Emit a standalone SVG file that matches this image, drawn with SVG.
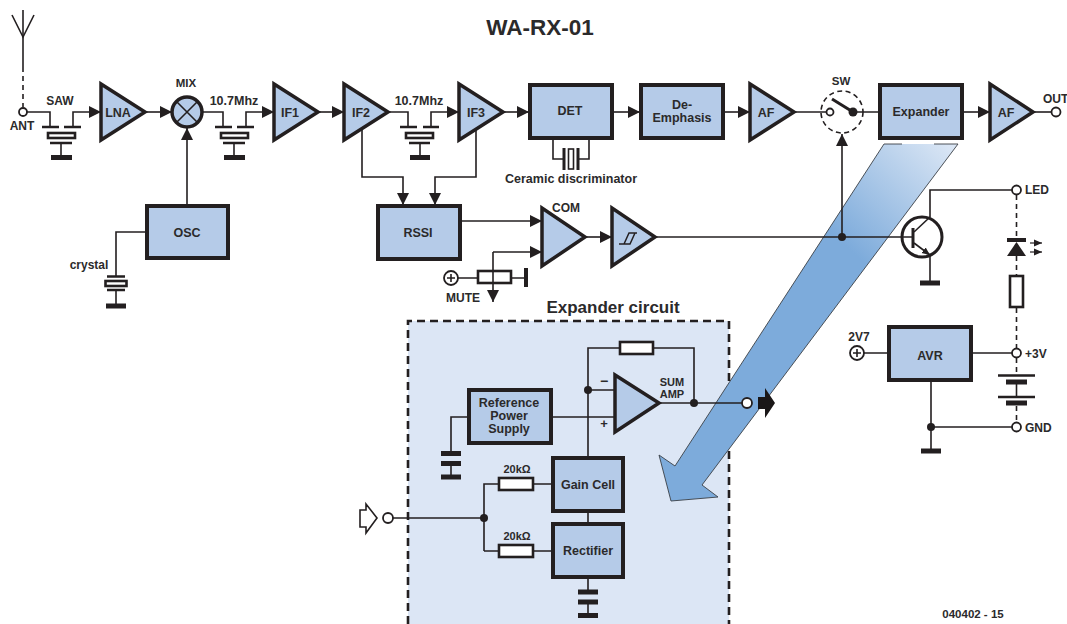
<svg xmlns="http://www.w3.org/2000/svg" width="1067" height="624" viewBox="0 0 1067 624">
<style>
text{font-family:"Liberation Sans",Arial,sans-serif;font-weight:bold;fill:#2b2a2b;text-anchor:middle}
.s{font-size:12px}.m{font-size:12.5px}.t{font-size:11px}
.l{text-anchor:start}.e{text-anchor:end}
.box{fill:#b5cbe8;stroke:#231f20;stroke-width:4}
.tri{fill:#b5cbe8;stroke:#231f20;stroke-width:3.5;stroke-linejoin:miter}
.w{fill:none;stroke:#231f20;stroke-width:1.6}
.a{marker-end:url(#ah)}
.d{fill:none;stroke:#231f20;stroke-width:1.6;stroke-dasharray:5 4}
.o{fill:#fff;stroke:#231f20;stroke-width:1.8}
.dot{fill:#231f20}
.bar{fill:none;stroke:#231f20;stroke-width:2.5}
.g{fill:none;stroke:#231f20;stroke-width:5}
.r{fill:#fff;stroke:#231f20;stroke-width:2.6}
</style>
<defs>
<marker id="ah" markerUnits="userSpaceOnUse" markerWidth="13" markerHeight="13" refX="12" refY="6.500" orient="auto"><path d="M0 0.500L12 6.500L0 12.500Z" fill="#231f20"/></marker>
<marker id="as" markerUnits="userSpaceOnUse" markerWidth="9" markerHeight="9" refX="8" refY="4.500" orient="auto"><path d="M0 1L8 4.500L0 8Z" fill="#231f20"/></marker>
<linearGradient id="bg" gradientUnits="userSpaceOnUse" x1="950" y1="135" x2="845" y2="245"><stop offset="0" stop-color="#dfe9f6"/><stop offset="1" stop-color="#7dabdb"/></linearGradient>
</defs>
<text x="540" y="35" font-size="22.5">WA-RX-01</text>
<g id="expander-circuit">
<path d="M408 321H729V624H408Z" fill="#dce6f5"/>
<path d="M408 624V321H729V624" fill="none" stroke="#231f20" stroke-width="2.6" stroke-dasharray="8 5"/>
<text x="613" y="313" font-size="17">Expander circuit</text>
</g>
<g id="big-arrow">
<path d="M884 144H958L702 485L718 497L671 501L659 455L675 466Z" fill="url(#bg)"/>
<path d="M902 144H884L675 466L659 455L671 501L718 497L702 485L958 144H934" fill="none" stroke="#3a3f46" stroke-width="0.9"/>
</g>
<g id="connectors">
<path class="w" d="M23 10V67"/><path class="d" d="M23 67V107"/><path class="w" d="M12 15L23 37L34 15"/>
<path class="w" d="M27 112H50V126"/><path class="w a" d="M73 126V112H101"/>
<path class="w a" d="M145 112H172"/>
<path class="w" d="M202 112H223V126"/><path class="w a" d="M246 126V112H274"/>
<path class="w a" d="M318 112H344"/>
<path class="w" d="M388 112H408V126"/><path class="w a" d="M431 126V112H459"/>
<path class="w a" d="M503 112H529"/>
<path class="w a" d="M612 112H640"/>
<path class="w a" d="M723 112H750"/>
<path class="w" d="M794 112H826M857 112H879"/>
<path class="w a" d="M963 112H990"/>
<path class="w" d="M1033 112H1051"/>
<path class="w a" d="M187 205V128"/>
<path class="w" d="M146 232H116V276"/>
<path class="w" d="M553 138V159H564M578 159H589V138"/>
<path class="w a" d="M362 130V177H403V205"/>
<path class="w a" d="M476 130V177H435V205"/>
<path class="w a" d="M460 221H542"/>
<path class="w a" d="M493 252H542"/>
<path class="w a" d="M493 252V302"/>
<path class="w" d="M458 278H477M511 278H525"/>
<path class="w a" d="M585 237H612"/>
<path class="w" d="M655 237H913"/>
<path class="w a" d="M842 237V134"/>
<circle class="dot" cx="842" cy="237" r="4"/>
<path class="w" d="M930 217V190H1012"/>
<path class="w" d="M930 255V281"/>
<path class="d" d="M1016.500 195V238M1016.500 256V275M1016.500 308V348M1016.500 358V375M1016.500 406V423"/>
<path class="w" d="M1016.500 381V397"/>
<path class="w" d="M864 353H888M972 353H1012"/>
<path class="w" d="M931 380V451M931 427H1012"/>
<circle class="dot" cx="931" cy="427" r="4"/>
<path class="w" d="M588 457V348H619M653 348H694V403"/>
<path class="w" d="M588 390H615M552 417H615M468 417H451V453"/>
<circle class="dot" cx="588" cy="390" r="4"/>
<path class="w" d="M659 403H742"/>
<circle class="dot" cx="694" cy="403" r="4"/>
<path class="w" d="M588 512V524M588 577V592"/>
<path class="w" d="M393 518H484M484 551V484H498M533 484H552M484 551H498M533 551H552"/>
<circle class="dot" cx="484" cy="518" r="4"/>
</g>
<g id="ant">
<circle class="o" cx="23" cy="112" r="4"/>
<text class="s" x="22" y="130">ANT</text>
</g>
<g id="saw">
<text class="s" x="60" y="105">SAW</text>
<path class="bar" d="M42 127H59M64 127H81M50 143H72"/>
<rect class="r" x="48" y="133" width="27" height="5" stroke-width="1.8"/>
<path class="w" d="M61 143V157"/><path class="g" d="M51 157.500H72"/>
</g>
<g id="lna"><path class="tri" d="M101 84V140L145 112Z"/><text class="m" x="118" y="117">LNA</text></g>
<g id="mix">
<circle cx="187" cy="112" r="15" fill="#b5cbe8" stroke="#231f20" stroke-width="3.500"/>
<path class="w" d="M177 102L197 122M197 102L177 122"/>
<text x="186" y="87" font-size="11.500">MIX</text>
</g>
<g id="filter1">
<text x="234" y="105" font-size="12.500">10.7Mhz</text>
<path class="bar" d="M215 127H232M237 127H254M223 143H245"/>
<rect class="r" x="221" y="133" width="27" height="5" stroke-width="1.8"/>
<path class="w" d="M234 143V157"/><path class="g" d="M224 157.500H245"/>
</g>
<g id="if1"><path class="tri" d="M274 84V140L318 112Z"/><text class="m" x="290" y="117">IF1</text></g>
<g id="if2"><path class="tri" d="M344 84V140L388 112Z"/><text class="m" x="361" y="117">IF2</text></g>
<g id="filter2">
<text x="419" y="105" font-size="12.500">10.7Mhz</text>
<path class="bar" d="M400 127H417M423 127H439M409 143H430"/>
<rect class="r" x="406" y="133" width="27" height="5" stroke-width="1.8"/>
<path class="w" d="M420 143V157"/><path class="g" d="M410 157.500H430"/>
</g>
<g id="if3"><path class="tri" d="M459 84V140L503 112Z"/><text class="m" x="476" y="117">IF3</text></g>
<g id="det"><rect class="box" x="530" y="85" width="82" height="53"/><text class="m" x="570" y="115">DET</text></g>
<g id="ceramic">
<path d="M564 148V170M578 148V170" stroke="#231f20" stroke-width="3" fill="none"/>
<rect x="568.500" y="149" width="5" height="20" fill="#fff" stroke="#231f20" stroke-width="1.600"/>
<text x="571" y="183" font-size="12.500">Ceramic discriminator</text>
</g>
<g id="de-emphasis"><rect class="box" x="641" y="85" width="82" height="53"/><text class="m" x="682" y="109">De-</text><text class="m" x="682" y="122">Emphasis</text></g>
<g id="af1"><path class="tri" d="M750 84V140L794 112Z"/><text class="m" x="766" y="117">AF</text></g>
<g id="sw">
<text x="841" y="85" font-size="11.500">SW</text>
<circle cx="842" cy="112" r="21" fill="none" stroke="#231f20" stroke-width="1.600" stroke-dasharray="5 3.500"/>
<circle class="o" cx="830" cy="112" r="3.500"/>
<path d="M832 99L853 112" stroke="#231f20" stroke-width="3" fill="none"/>
<circle class="dot" cx="853" cy="112" r="4.500"/>
</g>
<g id="expander"><rect class="box" x="880" y="85" width="82" height="53"/><text class="m" x="921" y="116">Expander</text></g>
<g id="af2"><path class="tri" d="M990 84V140L1033 112Z"/><text class="m" x="1006" y="117">AF</text></g>
<g id="out"><circle class="o" cx="1056" cy="112" r="4.500"/><text class="s l" x="1043" y="103">OUT</text></g>
<g id="osc"><rect class="box" x="147" y="206" width="81" height="52"/><text class="m" x="187" y="237">OSC</text></g>
<g id="crystal">
<text class="s" x="89" y="269">crystal</text>
<path class="bar" d="M107 276.500H125M107 290H125"/>
<rect class="r" x="105.500" y="281" width="21" height="5" stroke-width="1.800"/>
<path class="w" d="M116 290V304"/><path class="g" d="M106 306H126"/>
</g>
<g id="rssi"><rect class="box" x="378" y="206" width="82" height="53"/><text class="m" x="418" y="237">RSSI</text></g>
<g id="com"><path class="tri" d="M542 208V266L585 237Z"/><text class="s" x="566" y="212">COM</text></g>
<g id="schmitt"><path class="tri" d="M612 208V266L655 237Z"/>
<path d="M619 244H630L635 233M624 244L629 233H637" fill="none" stroke="#231f20" stroke-width="1.500"/></g>
<g id="mute">
<circle class="o" cx="451" cy="278" r="7"/>
<path class="w" d="M447 278H455M451 274V282"/>
<rect x="478" y="271" width="33" height="12" fill="none" stroke="#231f20" stroke-width="2.600"/>
<path d="M526 268V287" fill="none" stroke="#231f20" stroke-width="4"/>
<text class="s" x="463" y="302">MUTE</text>
</g>
<g id="transistor">
<circle cx="922" cy="237" r="20" fill="none" stroke="#231f20" stroke-width="3"/>
<path d="M913 228V248" stroke="#231f20" stroke-width="3" fill="none"/>
<path class="w" d="M914 232L930 217"/>
<path class="w" d="M914 243L930 255" marker-end="url(#as)"/>
<path class="g" d="M920 283H940"/>
</g>
<g id="led-out"><circle class="o" cx="1016.500" cy="190" r="4.500"/><text class="s l" x="1025" y="194">LED</text></g>
<g id="led">
<path d="M1007 240H1026" stroke="#231f20" stroke-width="4" fill="none"/>
<path d="M1016.500 242L1007 256H1026Z" fill="#231f20"/>
<path d="M1030 243H1042" stroke="#231f20" stroke-width="1.200" fill="none" marker-end="url(#as)"/>
<path d="M1030 252H1042" stroke="#231f20" stroke-width="1.200" fill="none" marker-end="url(#as)"/>
</g>
<g id="led-r"><rect class="r" x="1010" y="276" width="13" height="31" stroke-width="3"/></g>
<g id="plus3v"><circle class="o" cx="1016.500" cy="353" r="4.500"/><text class="s l" x="1025" y="358">+3V</text></g>
<g id="battery">
<path class="bar" d="M998 375.500H1035M998 397H1035"/>
<path class="g" d="M1006 382H1027M1006 403H1027"/>
</g>
<g id="gnd"><circle class="o" cx="1016.500" cy="427" r="4.500"/><text class="s l" x="1025" y="432">GND</text></g>
<g id="v27">
<circle class="o" cx="857" cy="353" r="7"/>
<path class="w" d="M853 353H861M857 349V357"/>
<text class="s" x="859" y="341">2V7</text>
</g>
<g id="avr"><rect class="box" x="889" y="327" width="82" height="53"/><text class="m" x="930" y="360">AVR</text></g>
<path id="avr-ground" class="g" d="M921 451H941"/>
<g id="feedback-r"><rect class="r" x="620" y="342" width="33" height="12"/></g>
<g id="sum-amp">
<path class="tri" d="M615 375V432L659 403Z" stroke-width="3"/>
<text x="604" y="386" font-size="14">−</text>
<text x="604" y="428" font-size="13">+</text>
<text class="t" x="672" y="386">SUM</text><text class="t" x="672" y="398">AMP</text>
</g>
<g id="ref-supply"><rect class="box" x="469" y="390" width="82" height="53"/>
<text class="m" x="509" y="407">Reference</text><text class="m" x="509" y="420">Power</text><text class="m" x="509" y="433">Supply</text></g>
<g id="cap1"><path class="w" d="M451 463V477"/><path class="g" d="M441 453.500H461M441 463.500H461M441 477H461" stroke-width="4.500"/></g>
<g id="gain-cell"><rect class="box" x="553" y="458" width="70" height="53"/><text class="m" x="588" y="489">Gain Cell</text></g>
<g id="rectifier"><rect class="box" x="553" y="524" width="70" height="53"/><text class="m" x="588" y="555">Rectifier</text></g>
<g id="cap2"><path class="w" d="M588 602V615"/><path class="g" d="M578 592H598M578 602H598M578 615.500H598" stroke-width="4.500"/></g>
<g id="r20k-1"><rect class="r" x="499" y="478" width="34" height="12"/><text class="t" x="517" y="473">20kΩ</text></g>
<g id="r20k-2"><rect class="r" x="499" y="545" width="34" height="12"/><text class="t" x="517" y="540">20kΩ</text></g>
<g id="input"><path d="M360 510H366V504L377 518L366 533V527H360Z" fill="#fff" stroke="#231f20" stroke-width="1.600"/><circle class="o" cx="388" cy="518" r="5"/></g>
<g id="output"><circle class="o" cx="747" cy="403" r="5"/><path d="M758 397H765V388L775 403L765 418V409H758Z" fill="#1a1718"/></g>
<text x="973" y="618" font-size="11.500">040402 - 15</text>
</svg>
